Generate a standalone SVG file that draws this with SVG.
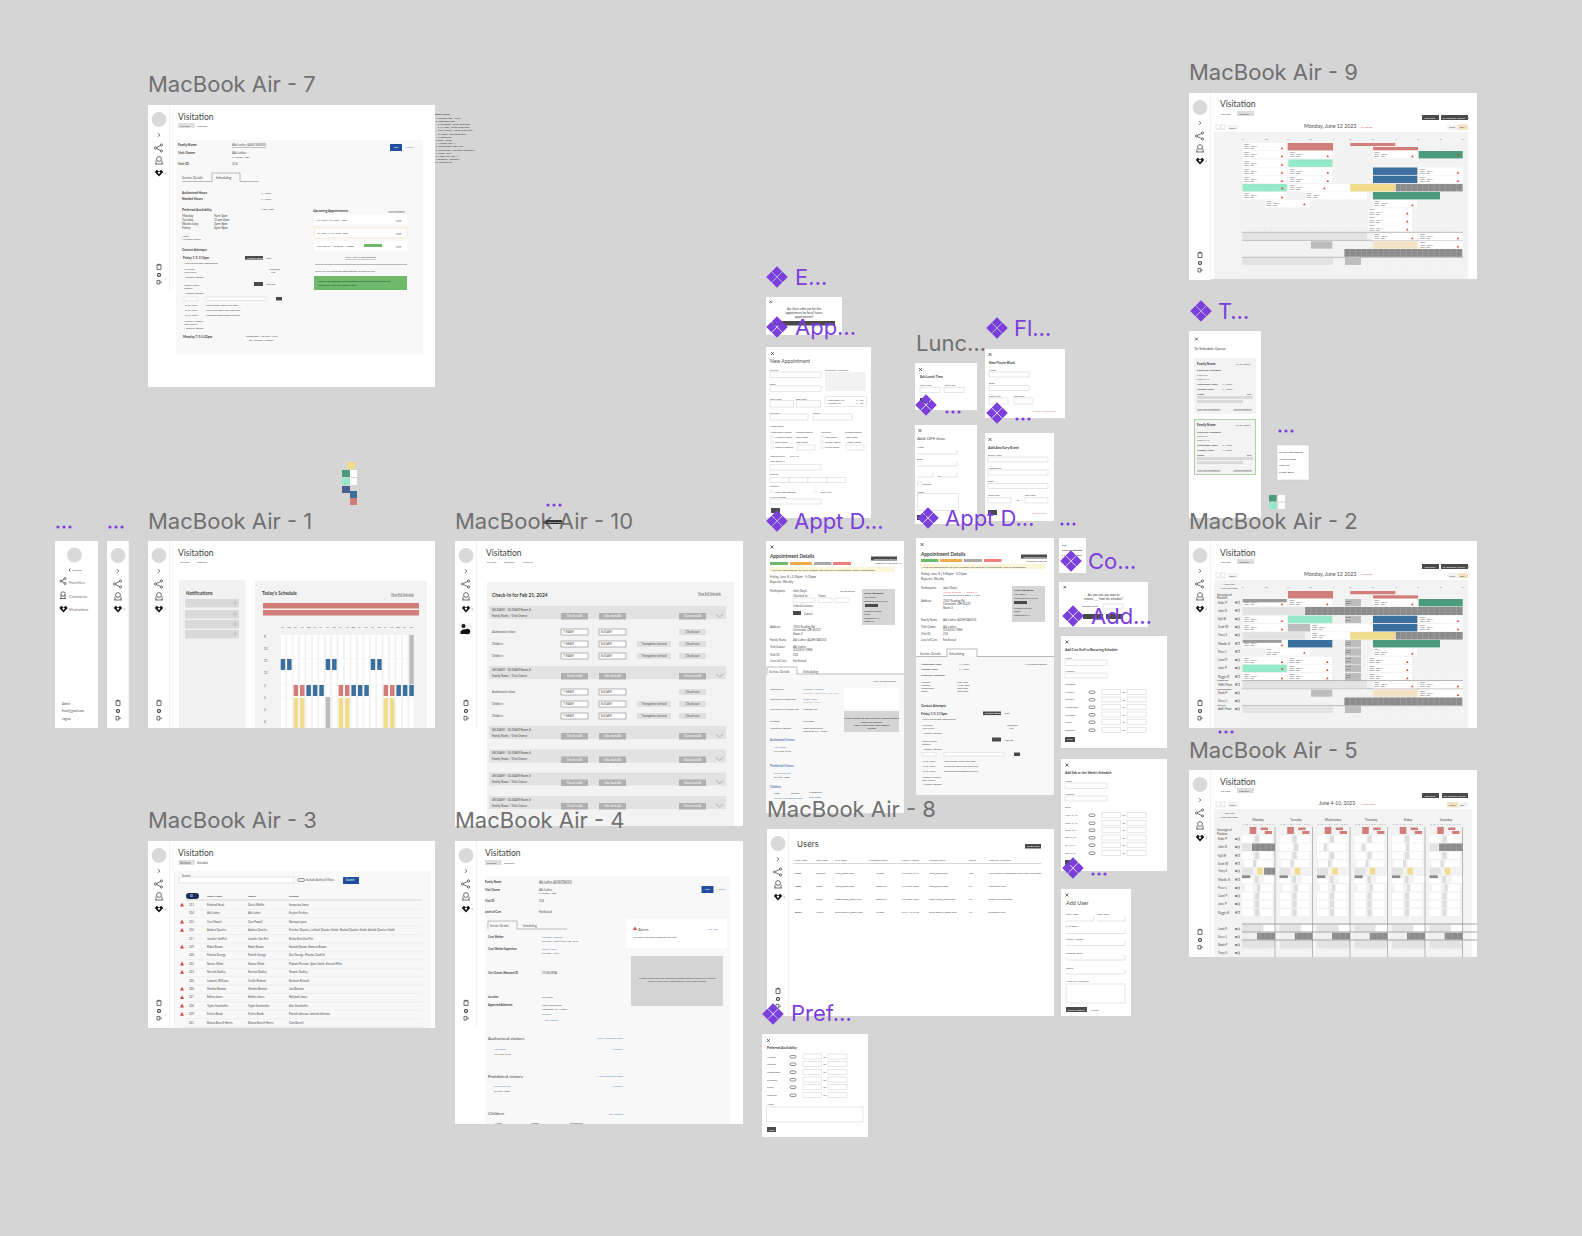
<svg xmlns="http://www.w3.org/2000/svg" xmlns:xlink="http://www.w3.org/1999/xlink" width="1582" height="1236" viewBox="0 0 1582 1236">
<style>
text{font-family:Lato,"Liberation Sans",sans-serif;fill:#4a4a4a}
.lb{font-family:Inter,"Liberation Sans",sans-serif;font-size:22px;fill:#707070}
.cp{font-family:Inter,"Liberation Sans",sans-serif;font-size:22px;fill:#7b3fdb}
.ti{font-size:8.5px;fill:#444}
.f{fill:#fff}.p{fill:#f8f8f8}.q{fill:#f3f3f3}.g{fill:#d9d9d9}
.a{font-size:2.6px}.b{font-size:2.9px}.c{font-size:3.2px}.d{font-size:3.2px;font-weight:700;fill:#3c3c3c}.e{font-size:3.7px;font-weight:700;fill:#3c3c3c}.h{font-size:4.8px;font-weight:700;fill:#3c3c3c}
#mba3 .a{font-size:2.8px}#grow .a,#subrows .a{font-size:3px}#tx .a{font-size:1.9px}#gd .a{font-size:1.9px}#contact .a{font-size:2.4px}
.u{text-decoration:underline}.bl{fill:#5b7cb0}.w{fill:#fff}.m{text-anchor:middle}.r{text-anchor:end}
.in{fill:#fff;stroke:#d8d8d8;stroke-width:.6}.sv{fill:#4a4a4a}.btn{fill:#b0b0b0}
.nb{fill:#3b6f9e}.rb{fill:#d17e7b}.yb{fill:#f0dc8c}.gb{fill:#bdbdbd}.lg{fill:#e3e3e3}.mb{fill:#93e9c8}.tb{fill:#f2e3c4}.sb{fill:url(#st)}.gr{fill:#4a9a7b}
.ln{stroke:#aaa;stroke-width:.8;fill:none}.ic{fill:none;stroke:#333;stroke-width:.7}
</style>
<defs>
<pattern id="st" x="0" y="0" width="5.6" height="10" patternUnits="userSpaceOnUse"><rect width="5.6" height="10" fill="#8c8c8c"/><rect width=".5" height="10" fill="#aaa"/></pattern>
<pattern id="col" x="280.7" y="0" width="6.43" height="10" patternUnits="userSpaceOnUse"><rect width="4.5" height="10" fill="#fff"/></pattern>
<pattern id="grid" x="1242" y="0" width="5.68" height="8.1" patternUnits="userSpaceOnUse"><rect width="5.68" height="8.1" fill="#f3f3f3"/><path d="M0 0V8.1M0 0H5.68" stroke="#e9e9e9" stroke-width=".4"/></pattern>
<g id="cmp"><path fill="#7b3fdb" d="M0-10.800 5.200-5.600 0-.4-5.200-5.600ZM0 .4 5.200 5.600 0 10.800-5.200 5.600ZM-5.600-5.200-10.800 0-5.600 5.200-.4 0ZM5.600-5.200 .4 0 5.600 5.200 10.800 0Z"/></g>
<g id="dots"><circle cx="0" cy="0" r="1.600" fill="#7b3fdb"/><circle cx="6" cy="0" r="1.600" fill="#7b3fdb"/><circle cx="12" cy="0" r="1.600" fill="#7b3fdb"/></g>
<g id="heart"><path d="M-4.200-1-2.200-3.200 0-1.600 2.200-3.200 4.200-1 0 3.600Z" fill="#111"/><path d="M-1.400-.5 0-1.600 1.400-.5 0 1.200Z" fill="#fff"/><circle cx="6.200" cy="0" r=".6" fill="#e33"/></g>
<g id="sideicons">
<rect x="0" y="0" width="21" height="187" fill="#fff"/><rect x="21" width="1" height="187" fill="#f2f2f2"/>
<circle cx="11" cy="14.500" r="7.400" fill="#d9d9d9"/><path d="M10 28.200 11.800 30 10 31.800" class="ic"/>
<g class="ic"><circle cx="7.500" cy="43" r="1.100"/><circle cx="13.500" cy="40" r="1.100"/><circle cx="13.500" cy="46" r="1.100"/><path d="M8.500 42.500 12.500 40.500M8.500 43.500 12.500 45.500"/><circle cx="11" cy="54" r="2.400"/><path d="M7 59H15M8 59V55.500M14 59V55.500"/></g>
<use href="#heart" x="11" y="68"/>
<g class="ic"><rect x="9" y="160" width="4" height="4.500"/><path d="M9.800 160V159.300H12.200V160"/><circle cx="11" cy="170" r="1.500" stroke-width="1.100"/><path d="M9 175.400H11.800V179H9ZM11.800 177.200H14"/></g>
</g>
<g id="tri"><path d="M0 1.800 1.300-.4 2.600 1.800Z" fill="#d9483b"/></g>
<g id="tri2"><path d="M0 2.600 2-1.200 4 2.600Z" fill="#cf4a3d"/></g>
<g id="tx"><text class="a" x="1" y="2.200">Katie P</text><text class="a" x="1" y="4.300">10:00 - 1:00 PM</text><text class="a" x="1" y="6.300">Family Name</text></g>
<g id="b44"><rect width="44" height="7.400" class="f"/><use href="#tx"/><use href="#tri" x="38" y="4.400"/></g>
<g id="head"><text class="ti" x="0" y="0">Visitation</text></g>
<g id="gd"><rect width="16" height="7.400" class="gb"/><text class="a" x="1" y="2.500">Lunch</text><text class="a" x="1" y="5">Break</text></g>
<g id="mini"><rect width="2" height="2" fill="#888"/><rect x="2.800" width="2" height="2" fill="none" stroke="#666" stroke-width=".4"/></g>
<g id="dayrow"><rect width="11" height="7" class="f"/><rect x="13" width="4" height="7" fill="#ddd"/><rect x="18" width="12" height="7" class="f"/></g>
<g id="day">
<text x="1" y="824.500" style="font-size:1.700px;word-spacing:1.200px">9 10 11 12 1 2 3 4 5 6 7</text>
<rect x="7.700" y="827" width="6.600" height="7" class="rb"/><rect x="18.700" y="827.500" width="7.300" height="2.600" class="rb"/><rect x="22.700" y="831" width="7.300" height="3" class="rb"/>
<use href="#dayrow" y="835.500"/><use href="#dayrow" y="852"/>
<rect x="2" y="860" width="9" height="7" class="f"/><rect x="11" y="860" width="3" height="7" fill="#ddd"/><rect x="16" y="860" width="14" height="7" class="f"/>
<rect y="867.700" width="11" height="7" class="lg"/><rect x="15.300" y="867.700" width="5.400" height="7" class="yb"/>
<rect y="875.300" width="8.300" height="3" fill="#8c8c8c"/><rect y="878.300" width="11" height="5" class="f"/><rect x="13" y="876" width="3.500" height="7" fill="#ddd"/><rect x="22" y="876" width="11" height="7" class="f"/>
<rect x="3" y="884.300" width="8" height="7" class="f"/><rect x="15" y="884.300" width="3" height="7" fill="#ddd"/><rect x="19" y="884.300" width="11" height="7" class="f"/>
<use href="#dayrow" y="892.500"/><use href="#dayrow" y="900.700"/><use href="#dayrow" y="909"/>
<rect y="925" width="21" height="6.500" class="lg"/><rect x="22" y="925" width="11" height="6.500" class="f"/>
<rect x="15" y="932.800" width="18" height="6.800" class="sb"/><rect y="932.800" width="15" height="6.800" fill="#efefef"/>
<rect y="940.800" width="33" height="7.500" class="lg"/>
<path d="M33 827V957" stroke="#8f8f8f" stroke-width=".6"/>
</g>
<g id="avrow"><rect x="0" y="0" width="6" height="2.500" rx="1.200" fill="none" stroke="#444" stroke-width=".6"/><rect x="13" y="-1.500" width="18.500" height="5" class="in"/><rect x="38" y="-1.500" width="19" height="5" class="in"/><text class="a" x="33.500" y="2">to</text></g>
<g id="grow"><rect width="237" height="13" fill="#e2e2e2"/><text class="a" x="3" y="4.500">08:30AM - 10:30AM  Room #</text><text class="a" x="3" y="10.500">Family Name / Visit Owner</text>
<rect x="72" y="7" width="27" height="6.500" class="btn"/><rect x="110" y="7" width="27" height="6.500" class="btn"/><rect x="190" y="7" width="27" height="6.500" class="btn"/>
<text class="a w m" x="85.500" y="11.300">Check in All</text><text class="a w m" x="123.500" y="11.300">Take back All</text><text class="a w m" x="203.500" y="11.300">Check out All</text><path d="M227 8 230.500 11 234 8" fill="none" stroke="#777" stroke-width=".5"/></g>
<g id="subrows">
<text class="a" x="3" y="4">Authorized visitor</text><rect x="72" y="0" width="27" height="6" class="in" style="stroke:#888"/><rect x="110" y="0" width="27" height="6" class="in" style="stroke:#888"/><text class="a" x="74" y="4">7:58AM</text><text class="a" x="112" y="4">8:43AM</text><rect x="190" y="0" width="27" height="6" fill="#dedede"/><text class="a m" x="203.500" y="4">Check out</text>
<text class="a" x="3" y="16">Children</text><rect x="72" y="12" width="27" height="6" class="in" style="stroke:#888"/><rect x="110" y="12" width="27" height="6" class="in" style="stroke:#888"/><text class="a" x="74" y="16">7:58AM</text><text class="a" x="112" y="16">8:43AM</text><rect x="148" y="12" width="34" height="6" fill="#e0e0e0"/><text class="a m" x="165" y="16">Transporter arrived</text><rect x="190" y="12" width="27" height="6" fill="#dedede"/><text class="a m" x="203.500" y="16">Check out</text>
<text class="a" x="3" y="28">Children</text><rect x="72" y="24" width="27" height="6" class="in" style="stroke:#888"/><rect x="110" y="24" width="27" height="6" class="in" style="stroke:#888"/><text class="a" x="74" y="28">7:58AM</text><text class="a" x="112" y="28">8:43AM</text><rect x="148" y="24" width="34" height="6" fill="#e0e0e0"/><text class="a m" x="165" y="28">Transporter arrived</text><rect x="190" y="24" width="27" height="6" fill="#dedede"/><text class="a m" x="203.500" y="28">Check out</text>
</g>
<g id="contact">
<text class="d" x="0" y="0">Friday 1/5 3:15pm</text><rect x="62" y="-3" width="18" height="3.600" class="sv"/><text class="a w" x="64" y="-.3">Contact Attempt</text><text class="a" x="83" y="-.3">Appt</text>
<text class="a" x="1" y="5">Need confirmation appointment</text>
<text class="a" x="1" y="11">Abi Luther</text><text class="a" x="1" y="14">Visit Owner</text><text class="a" x="86" y="11">Contacted</text><text class="a" x="88" y="14">Left</text><text class="a" x="1" y="19">+ Contact Attempt</text>
<text class="a" x="1" y="27">Kendall Luther</text><text class="a" x="1" y="30">Support</text><rect x="71" y="23" width="9" height="4" class="sv"/><text class="a" x="83" y="26">Appt left</text><text class="a" x="1" y="35">+ Contact Attempt</text>
<rect x="1" y="38" width="14" height="3.500" class="in"/><rect x="23" y="38" width="60" height="3.500" class="in"/><rect x="93" y="38" width="6" height="3.500" class="sv"/>
<text class="a" x="2" y="47">01/01/2024</text><text class="a" x="23" y="47">Left voicemail about new appt</text><text class="a" x="2" y="52">01/01/2024</text><text class="a" x="23" y="52">Called and spoke with supervisor</text><text class="a" x="2" y="57">01/01/2024</text><text class="a" x="23" y="57">Confirmed appointment with me</text>
<text class="a" x="1" y="63">Madison Huffman</text><text class="a" x="1" y="66">Case Worker</text><text class="a" x="1" y="70">+ Contact Attempt</text>
</g>
</defs>
<rect width="1582" height="1236" fill="#d5d5d5"/>

<g id="mba7"><rect x="148" y="105" width="287" height="282" class="f"/><rect x="176" y="140" width="247" height="215" class="p"/>
<use href="#sideicons" x="148" y="105" /><rect x="148" y="292" width="22" height="95" class="f"/><use href="#head" x="178" y="120"/>
<rect x="178" y="123" width="17" height="5" fill="#e0e0e0"/><text class="a" x="180" y="126.500">Services</text><text class="a" x="197" y="126.500">Schedule</text>
<text class="d" x="178" y="146">Family Name:</text><text class="c u" x="232" y="146">Abi Luther (A36745092)</text>
<text class="d" x="178" y="154">Visit Owner</text><text class="c" x="232" y="154">Abi Luther</text><text class="a" x="232" y="157.500">(513)555-1986</text><text class="d" x="178" y="165">Visit ID:</text><text class="c" x="232" y="165">214</text>
<rect x="390" y="144" width="12" height="7" rx=".6" fill="#1f4e9e"/><text class="a w" x="394" y="148.300">Edit</text><text class="a bl" x="405" y="148.300">Archive</text>
<path d="M182 181.500H212V173H240V181.500H259" class="ln"/><text class="c" x="182" y="179">Service Details</text><text class="c" x="216" y="179">Scheduling</text>
<text class="d" x="182" y="193.500">Authorized Hours</text><text class="a" x="261" y="193.500">X / week</text><text class="d" x="182" y="199.500">Needed Hours</text><text class="a" x="261" y="199.500">X / week</text>
<text class="d" x="182" y="210.500">Preferred Availability</text><text class="a" x="260" y="210">+ Add / Edit</text>
<text class="c" x="182" y="216.500">Monday</text><text class="c" x="214" y="216.500">9am-2pm</text><text class="c" x="182" y="220.800">Tuesday</text><text class="c" x="214" y="220.800">11am-4pm</text><text class="c" x="182" y="225">Wednesday</text><text class="c" x="214" y="225">2pm-8pm</text><text class="c" x="182" y="229.300">Friday</text><text class="c" x="214" y="229.300">4pm-8pm</text>
<text class="a" x="182" y="236.500">Notes</text><text class="a" x="182" y="240">Available flexibly</text><text class="d" x="182" y="251">Contact Attempts</text>
<use href="#contact" x="183" y="259"/><text class="d" x="183" y="338">Monday 7/5 5:23pm</text><text class="a" x="246" y="337">Completed: 1/8/2024 10:01</text><text class="a" x="249" y="341">By Madison Huffman</text>
<text class="d" x="313" y="211.500">Upcoming Appointments</text><text class="a u" x="388" y="211.500">View Schedule</text>
<rect x="314" y="214.500" width="93" height="10" class="f"/><rect x="314.500" y="228" width="92.500" height="10" class="f" stroke="#f5e8c4" stroke-width=".8"/><rect x="314" y="241" width="93" height="10" class="f"/>
<text class="a" x="317" y="220.500">Fri, June 9  |  5:15pm - 7pm</text><text class="a" x="317" y="233.500">Fri, June 16  |  3:15pm - 5pm</text><text class="a" x="317" y="246.500">Sat, June 24  |  10:30am - 1:00pm</text><rect x="364" y="244" width="18" height="3" fill="#6fb96b"/>
<text class="a u" x="396" y="220.500">Man</text><text class="a u" x="396" y="233.500">Man</text><text class="a u" x="396" y="246.500">Man</text>
<text class="a u m" x="360.500" y="258">View Next 3 Appointments</text><path d="M315 264.500H407" class="ln"/><text class="a" x="315" y="271.500">There are no upcoming appointments for this service.</text>
<rect x="314" y="276" width="93" height="14" fill="#6fb96b"/><text class="a" x="318" y="282" style="fill:#234">There is an opening on the schedule that matches the preferred</text><text class="a" x="318" y="285.500" style="fill:#234">availability. Click to Schedule now</text></g>
<g id="block-colors"><text class="a" x="435" y="115" style="font-weight:700;fill:#333">Block Colors:</text>
<text class="a" style="font-size:2.300px;fill:#333"><tspan x="436" y="118.500">1. Pending Appt - Yellow</tspan><tspan x="436" y="122">2. Confirmed Appt:</tspan><tspan x="438" y="125">a. Facilitated - White, Black text</tspan><tspan x="438" y="128.200">b. In Home - White, Green Text</tspan><tspan x="438" y="131.400">c. Sy (Anxiety) - Liquid, White Text</tspan><tspan x="438" y="134.500">d. Hazard - Gray, Black Text</tspan><tspan x="438" y="137.800">e. Interpreter -</tspan><tspan x="436" y="141">3. Edits - Purple</tspan><tspan x="436" y="144.200">4. Makeup Appt - ?</tspan><tspan x="436" y="147.400">5. Unconfirmed Appt - Red</tspan><tspan x="436" y="150.600">6. Room Block - Gray(Blue, diffraction)</tspan><tspan x="436" y="153.800">7. Lunch - Gray</tspan><tspan x="436" y="157">8. Home Visit - Sth - ?</tspan><tspan x="436" y="160.200">9. Disabled - Light gray</tspan><tspan x="435" y="163.400">10. Unscheduled</tspan></text></g>

<g id="swatches"><rect x="347" y="462" width="8" height="7" fill="#f0dc8c"/><rect x="342" y="470" width="8" height="7" fill="#4a9a7b"/><rect x="350" y="470" width="7" height="7" fill="#fff"/><rect x="342" y="478" width="8" height="7" fill="#93e9c8"/><rect x="350" y="478" width="7" height="7" fill="#fff"/><rect x="342" y="486" width="8" height="7" fill="#4a5f8c"/><rect x="350" y="491" width="7" height="7" fill="#3b6f9e"/><rect x="350" y="498" width="7" height="7" class="rb"/></g>

<g id="side-expanded"><rect x="55" y="541" width="43" height="187" class="f"/><circle cx="74.500" cy="555" r="7.400" class="g"/><path d="M70.500 568.500 69 570 70.500 571.500" class="ic"/><text class="a" x="72" y="571">Collapse</text>
<g class="ic"><circle cx="61" cy="581" r="1"/><circle cx="65" cy="578.500" r="1"/><circle cx="65" cy="583.500" r="1"/><path d="M62 580.500 64 579.300M62 581.500 64 582.700"/><circle cx="63" cy="594" r="2.200"/><path d="M60 598.500H66M61 598.500V595M65 598.500V595"/></g><text x="69" y="583.500" style="font-size:4.600px;fill:#777">Families</text><text x="69" y="597.500" style="font-size:4.600px;fill:#777">Contacts</text><use href="#heart" x="63.500" y="609"/><text x="69" y="611" style="font-size:4.600px;fill:#777">Visitation</text><text class="b" x="62" y="704.500">Admin</text><text class="b" x="62" y="712">Email@gmail.com</text><text class="b" x="62" y="719.500">Logout</text></g>
<g id="side-collapsed"><use href="#sideicons" x="107" y="541"/></g>

<g id="mba1"><rect x="148" y="541" width="287" height="187" class="f"/><use href="#sideicons" x="148" y="541"/><use href="#head" x="178" y="556"/><text class="a" x="180" y="563">Services</text><text class="a" x="197" y="563">Schedule</text>
<rect x="179" y="580" width="66.700" height="148" fill="#f2f2f2"/><text class="e" x="186" y="594.500" style="font-size:4.600px">Notifications</text>
<rect x="185" y="599" width="54" height="8.500" class="g"/><rect x="185" y="610" width="54" height="8.500" class="g"/><rect x="185" y="620" width="54" height="8.500" class="g"/><rect x="185" y="630" width="54" height="8.500" class="g"/>
<g class="ic" style="stroke:#aaa;stroke-width:.5"><circle cx="235" cy="603" r="1.300"/><circle cx="235" cy="614" r="1.300"/><circle cx="235" cy="624" r="1.300"/><circle cx="235" cy="634" r="1.300"/></g>
<rect x="255" y="581" width="172" height="147" class="q"/><text class="e" x="262" y="594.500" style="font-size:4.600px">Today's Schedule</text><text class="a u" x="391" y="595.500" style="font-size:2.800px">View Full Schedule</text>
<rect x="263" y="603" width="156" height="5.500" class="rb"/><rect x="263" y="610" width="156" height="5.500" class="rb"/>
<text class="a" style="font-size:2.400px"><tspan x="281" y="627.500">KP</tspan><tspan x="287.500" y="627.500">KB</tspan><tspan x="294" y="627.500">CA</tspan><tspan x="300.500" y="627.500">AC</tspan><tspan x="307" y="627.500">BW</tspan><tspan x="313.500" y="627.500">FT</tspan><tspan x="319.500" y="627.500">LF</tspan><tspan x="326" y="627.500">KP</tspan><tspan x="332.500" y="627.500">KB</tspan><tspan x="339" y="627.500">CA</tspan><tspan x="345.500" y="627.500">AC</tspan><tspan x="351.500" y="627.500">BW</tspan><tspan x="358" y="627.500">JK</tspan><tspan x="364.500" y="627.500">LO</tspan><tspan x="371" y="627.500">KP</tspan><tspan x="377.500" y="627.500">KB</tspan><tspan x="384" y="627.500">CA</tspan><tspan x="390" y="627.500">AC</tspan><tspan x="396.500" y="627.500">BW</tspan><tspan x="403" y="627.500">JK</tspan><tspan x="409.500" y="627.500">LO</tspan></text>
<rect x="280.700" y="635" width="133" height="93" fill="url(#col)"/><path d="M280 659H414M280 684.500H414M280 697H414" stroke="#f3f3f3" stroke-width=".6"/>
<text class="b" x="264" y="638">9</text><text class="b" x="264" y="650">10</text><text class="b" x="264" y="662">11</text><text class="b" x="264" y="674">12</text><text class="b" x="264" y="686.500">1</text><text class="b" x="264" y="698.500">2</text><text class="b" x="264" y="711">3</text><text class="b" x="264" y="723">4</text>
<rect x="280.700" y="659" width="4.500" height="11" class="nb"/><rect x="287.100" y="659" width="4.500" height="11" class="nb"/><rect x="325.700" y="659" width="4.500" height="11" class="nb"/><rect x="332.100" y="659" width="4.500" height="11" class="nb"/><rect x="370.700" y="659" width="4.500" height="11" class="nb"/><rect x="377.200" y="659" width="4.500" height="11" class="nb"/>
<rect x="293.600" y="685" width="4.500" height="11" class="rb"/><rect x="300" y="685" width="4.500" height="11" class="rb"/><rect x="306.400" y="685" width="4.500" height="11" class="nb"/><rect x="312.900" y="685" width="4.500" height="11" class="nb"/><rect x="319.300" y="685" width="4.500" height="11" class="nb"/><rect x="338.600" y="685" width="4.500" height="11" class="rb"/><rect x="345" y="685" width="4.500" height="11" class="rb"/><rect x="351.400" y="685" width="4.500" height="11" class="nb"/><rect x="357.900" y="685" width="4.500" height="11" class="nb"/><rect x="364.300" y="685" width="4.500" height="11" class="nb"/><rect x="383.600" y="685" width="4.500" height="11" class="rb"/><rect x="390" y="685" width="4.500" height="11" class="rb"/><rect x="396.400" y="685" width="4.500" height="11" class="nb"/><rect x="402.900" y="685" width="4.500" height="11" class="nb"/><rect x="409.300" y="685" width="4.500" height="11" class="nb"/>
<rect x="293.600" y="698" width="4.500" height="30" class="yb"/><rect x="300" y="698" width="4.500" height="30" class="yb"/><rect x="338.600" y="698" width="4.500" height="30" class="yb"/><rect x="345" y="698" width="4.500" height="30" class="yb"/><rect x="383.600" y="698" width="4.500" height="30" class="yb"/><rect x="390" y="698" width="4.500" height="30" class="yb"/><rect x="325.700" y="697" width="4.500" height="31" class="gb"/><rect x="409.300" y="635" width="4.500" height="49.500" class="gb"/></g>

<g id="mba10"><rect x="455" y="541" width="288" height="285" class="f"/><use href="#sideicons" x="455" y="541"/><rect x="459" y="623" width="13" height="12" fill="#f5f5f5"/><circle cx="463.500" cy="626" r="2" fill="#111"/><path d="M460.500 634V631.500Q463.500 628 466.500 630V634Z" fill="#111"/><circle cx="467.500" cy="631.500" r="2.700" fill="#111"/><use href="#head" x="486" y="556"/><text class="a" x="487" y="562.500">Services</text><text class="a" x="504" y="562.500">Schedule</text><text class="a" x="523" y="562.500">Check In</text>
<rect x="487" y="582" width="247" height="244" class="q"/><text class="h" x="492" y="597">Check-In for Feb 21, 2024</text><text class="a u" x="698" y="594.500" style="font-size:2.800px">View Full Schedule</text>
<use href="#grow" x="489" y="606"/><use href="#subrows" x="489" y="629"/><use href="#grow" x="489" y="666"/><use href="#subrows" x="489" y="689"/><use href="#grow" x="489" y="726"/><use href="#grow" x="489" y="749.500"/><use href="#grow" x="489" y="772.500"/><use href="#grow" x="489" y="796"/></g>

<g id="mba3"><rect x="148" y="841" width="287" height="187" class="f"/><use href="#sideicons" x="148" y="841"/><use href="#head" x="178" y="856"/><rect x="178.500" y="860" width="16" height="5" fill="#ddd"/><text class="a" x="180" y="863.500">Services</text><text class="a" x="197" y="863.500">Schedule</text>
<rect x="174" y="871" width="257" height="157" class="p"/><rect x="179" y="877" width="115" height="6" class="in"/><rect x="181" y="875.500" width="9" height="2" class="p"/><text class="a" x="182" y="877">Search</text><rect x="298" y="878.500" width="6.500" height="3" rx="1.500" fill="none" stroke="#444" stroke-width=".6"/><text class="a" x="306" y="881">Include Archived Visits</text><rect x="343" y="877" width="16" height="7" rx=".6" fill="#1f4e9e"/><text class="a w" x="346" y="881">Search</text>
<rect x="186" y="893" width="13" height="6" rx="3" fill="#1a2f5e"/><text class="a w" x="190" y="896.800">ID</text><text class="d" x="207" y="897" style="font-size:2.600px">Family Name</text><text class="d" x="248" y="897" style="font-size:2.600px">Owner</text><text class="d" x="289" y="897" style="font-size:2.600px">Children</text><path d="M186 900H422" class="ln" style="stroke:#ccc"/>
<path d="M186 909.400H422M186 917.800H422M186 926.200H422M186 934.600H422M186 943H422M186 951.400H422M186 959.800H422M186 968.200H422M186 976.600H422M186 985H422M186 993.400H422M186 1001.800H422M186 1010.200H422M186 1018.600H422M186 1027H422" stroke="#e6e6e6" stroke-width=".5"/>
<g><text class="a" x="189" y="906">211</text><text class="a" x="207" y="906">Folarind Head</text><text class="a" x="248" y="906">Darris Wollin</text><text class="a" x="289" y="906">Innocenta Jonas</text>
<text class="a" x="189" y="914.400">214</text><text class="a" x="207" y="914.400">Abi Luther</text><text class="a" x="248" y="914.400">Abi Luther</text><text class="a" x="289" y="914.400">Keylani Perkins</text>
<text class="a" x="189" y="922.800">215</text><text class="a" x="207" y="922.800">Cera Powell</text><text class="a" x="248" y="922.800">Cara Powell</text><text class="a" x="289" y="922.800">Nainoya Lyons</text>
<text class="a" x="189" y="931.200">216</text><text class="a" x="207" y="931.200">Andrea Quarles</text><text class="a" x="248" y="931.200">Andrea Quarles</text><text class="a" x="289" y="931.200">Fletcher Quarles, Lehlosh Quarles-Smith, Rashad Quarles-Smith, Ashiah Quarles-Smith</text>
<text class="a" x="189" y="939.600">217</text><text class="a" x="207" y="939.600">Jennifer VanPelt</text><text class="a" x="248" y="939.600">Jennifer Van Pelt</text><text class="a" x="289" y="939.600">Elisha Elno Van Pelt</text>
<text class="a" x="189" y="948">219</text><text class="a" x="207" y="948">Robin Brown</text><text class="a" x="248" y="948">Robin Brown</text><text class="a" x="289" y="948">Kamiah Brown, Romero Brown</text>
<text class="a" x="189" y="956.400">220</text><text class="a" x="207" y="956.400">Patricia George</text><text class="a" x="248" y="956.400">Patrick George</text><text class="a" x="289" y="956.400">Zuri George, Phoebe Cook Sir</text>
<text class="a" x="189" y="964.800">222</text><text class="a" x="207" y="964.800">Nature Elliott</text><text class="a" x="248" y="964.800">Nature Elliott</text><text class="a" x="289" y="964.800">Flipside Preston, Sybar Smith, Kincaid Hiller</text>
<text class="a" x="189" y="973.200">223</text><text class="a" x="207" y="973.200">Nerriah Dudley</text><text class="a" x="248" y="973.200">Nerriah Dudley</text><text class="a" x="289" y="973.200">Nawrin Dudley</text>
<text class="a" x="189" y="981.600">224</text><text class="a" x="207" y="981.600">Lawnnie Williams</text><text class="a" x="248" y="981.600">Tenille Richard</text><text class="a" x="289" y="981.600">Nashum Richard</text>
<text class="a" x="189" y="990">226</text><text class="a" x="207" y="990">Martha Blanton</text><text class="a" x="248" y="990">Martha Blanton</text><text class="a" x="289" y="990">Jala Blanton</text>
<text class="a" x="189" y="998.400">227</text><text class="a" x="207" y="998.400">Edthra Jones</text><text class="a" x="248" y="998.400">Edithra Jones</text><text class="a" x="289" y="998.400">Halijwah Jones</text>
<text class="a" x="189" y="1006.800">228</text><text class="a" x="207" y="1006.800">Taylor Stackmiller</text><text class="a" x="248" y="1006.800">Taylor Stackmiller</text><text class="a" x="289" y="1006.800">Arie Stackmiller</text>
<text class="a" x="189" y="1015.200">229</text><text class="a" x="207" y="1015.200">Felicia Brook</text><text class="a" x="248" y="1015.200">Felicia Brook</text><text class="a" x="289" y="1015.200">Patrick Johnson, Jamirah Johnson</text>
<text class="a" x="189" y="1023.600">231</text><text class="a" x="207" y="1023.600">Bianca Burrell-Harris</text><text class="a" x="248" y="1023.600">Bianca Burrell-Harris</text><text class="a" x="289" y="1023.600">Cam Burrell</text></g>
<use href="#tri2" x="180" y="904"/><use href="#tri2" x="180" y="920.800"/><use href="#tri2" x="180" y="929.200"/><use href="#tri2" x="180" y="946"/><use href="#tri2" x="180" y="962.800"/><use href="#tri2" x="180" y="971.200"/><use href="#tri2" x="180" y="988"/><use href="#tri2" x="180" y="996.400"/><use href="#tri2" x="180" y="1004.800"/><use href="#tri2" x="180" y="1013.200"/></g>

<g id="mba4"><rect x="455" y="841" width="288" height="283" class="f"/><use href="#sideicons" x="455" y="841"/><use href="#head" x="485" y="856"/><rect x="485" y="860" width="16.500" height="5" fill="#ddd"/><text class="a" x="487" y="863.500">Services</text><text class="a" x="504" y="863.500">Schedule</text>
<rect x="485" y="876" width="245" height="248" class="p"/><text class="d" x="485" y="882.500" style="font-size:2.800px">Family Name:</text><text class="b u" x="539" y="882.500">Abi Luther (A33879A252)</text><text class="d" x="485" y="890.500" style="font-size:2.800px">Visit Owner</text><text class="b" x="539" y="890.500">Abi Luther</text><text class="a" x="539" y="894">(513)555-1986</text><text class="d" x="485" y="901.500" style="font-size:2.800px">Visit ID</text><text class="b" x="539" y="901.500">214</text><text class="d" x="485" y="912.500" style="font-size:2.800px">Level of Care</text><text class="b" x="539" y="912.500">Facilitated</text>
<rect x="701.500" y="886" width="12" height="7" rx=".6" fill="#1f4e9e"/><text class="a w" x="705" y="890.300">Edit</text><text class="a bl" x="717" y="890.300">Archive</text>
<path d="M488 929V921H517V929H567" class="ln"/><text class="b" x="490" y="926.500">Service Details</text><text class="b" x="523" y="926.500">Scheduling</text>
<rect x="627" y="919" width="100" height="29" class="f"/><path d="M633 930 635 926.500 637 930Z" fill="#d9483b"/><text x="638" y="930.500" style="font-size:4px">Alerts</text><text class="a bl" x="705" y="929.500">+ Add Alert</text><text class="a" x="633" y="938">No alerts have been added to this visit.</text>
<rect x="631" y="956" width="92" height="50" fill="#d4d4d4"/><text class="a m" x="677" y="979">Visitor Scheduling and Schedule Communication details are missing</text><text class="a m" x="677" y="982">Family's preferred Appointment, Visit is still needed</text>
<text class="d" x="488" y="938" style="font-size:2.700px">Case Worker</text><text class="a bl" x="542" y="938">Madison Huffman</text><text class="a" x="542" y="942">513-994-1202  |  513-439-4543</text><text class="d" x="488" y="950" style="font-size:2.700px">Case Worker Supervisor</text><text class="a bl" x="542" y="950">Grace Mares</text><text class="a" x="542" y="954">513-994-1010</text><text class="d" x="488" y="974" style="font-size:2.700px">Visit Owner (Neocore) ID</text><text class="b" x="542" y="974">LY165289A</text><text class="d" x="488" y="998" style="font-size:2.700px">Location</text><text class="a" x="542" y="998">In-person</text><text class="d" x="488" y="1006" style="font-size:2.700px">Approved Addresses</text><text class="a" x="542" y="1006">7582 Reading Rd.</text><text class="a" x="542" y="1010">Cincinnati, OH 45237</text><text class="a bl" x="542" y="1015">Remove</text><text class="a bl" x="542" y="1021">+ Add Address</text>
<text class="e" x="488" y="1040" style="font-size:4.400px;font-weight:400">Authorized visitors</text><text class="a bl r" x="623" y="1039">+ Add Authorized visitor</text><text class="a bl" x="494" y="1050">Abi Luther</text><text class="a" x="494" y="1054.500">513-255-0492</text><text class="a bl r" x="623" y="1050">× Remove</text>
<text class="e" x="488" y="1077.500" style="font-size:4.400px;font-weight:400">Prohibited visitors</text><text class="a bl r" x="623" y="1077">+ Add Prohibited visitor</text><text class="a bl" x="494" y="1087">Jordan Perkins</text><text class="a" x="494" y="1091.500">Ex wife, 1980</text><text class="a bl r" x="623" y="1087">× Remove</text>
<text class="e" x="488" y="1115" style="font-size:4.400px;font-weight:400">Children</text><text class="a bl r" x="623" y="1114.500">+ Add Children</text><text class="a" x="495" y="1123.500">Name</text><text class="a" x="531" y="1123.500">Gender</text><text class="a" x="570" y="1123.500">Transporter</text></g>

<g id="mba8"><rect x="767" y="829" width="287" height="187" class="f"/><use href="#sideicons" x="767" y="829"/><text x="797" y="847" style="font-size:8px;font-family:Inter,sans-serif;fill:#444">Users</text><rect x="1025" y="844" width="16" height="4.500" class="sv"/><text class="a w" x="1027" y="847.300">Invite User</text>
<path d="M793 863.500H1041" class="ln" style="stroke:#ccc"/>
<g><text class="a" x="795" y="861">First Name</text><text class="a" x="816" y="861">Last Name</text><text class="a" x="835" y="861">PHC Email</text><text class="a" x="869" y="861">Invitation Status</text><text class="a" x="902" y="861">Phone Number</text><text class="a" x="929" y="861">Personal Email</text><text class="a" x="969" y="861">Status</text><text class="a" x="988" y="861">Notes on Availability</text>
<text class="d" x="795" y="873.500" style="font-size:2.600px">Lexie</text><text class="a" x="816" y="873.500">Rollman</text><text class="a" x="835" y="873.500">lexie@gmail.com</text><text class="a" x="876" y="873.500">Invited</text><text class="a" x="902" y="873.500">513-555-9451</text><text class="a" x="929" y="873.500">lexie@gmail.com</text><text class="a" x="969" y="873.500">Sub</text><text class="a" x="988" y="873.500">Not available Wednesday and Fridays evenings</text>
<text class="d" x="795" y="886.500" style="font-size:2.600px">Katie</text><text class="a" x="816" y="886.500">Smith</text><text class="a" x="835" y="886.500">katie@gmail.com</text><text class="a" x="876" y="886.500">Signed in</text><text class="a" x="902" y="886.500">513-955-8755</text><text class="a" x="929" y="886.500">katie@gmail.com</text><text class="a" x="969" y="886.500">PT</text><text class="a" x="988" y="886.500">Afternoons only</text>
<text class="d" x="795" y="899.500" style="font-size:2.600px">Peter</text><text class="a" x="816" y="899.500">Jacob</text><text class="a" x="835" y="899.500">peter.jacob@gmail.com</text><text class="a" x="876" y="899.500">Signed in</text><text class="a" x="902" y="899.500">513-585-7563</text><text class="a" x="929" y="899.500">peter.jacob@gmail.com</text><text class="a" x="969" y="899.500">PT</text><text class="a" x="988" y="899.500">Flexible on weekends</text>
<text class="d" x="795" y="913" style="font-size:2.600px">Bailey</text><text class="a" x="816" y="913">Moore</text><text class="a" x="835" y="913">baileymoore@gmail.com</text><text class="a" x="876" y="913">Invited</text><text class="a" x="902" y="913">513-442-6173</text><text class="a" x="929" y="913">baileymoore@gmail.com</text><text class="a" x="969" y="913">FT</text><text class="a" x="988" y="913">Weekdays Only</text></g></g>

<g id="mba9"><rect x="1189" y="93" width="288" height="186" class="f"/><use href="#sideicons" x="1189" y="93"/><use href="#head" x="1220" y="107"/><text class="a" x="1221" y="114.500">Services</text><rect x="1237" y="111" width="17" height="5" fill="#ddd"/><text class="a" x="1239" y="114.500">Schedule</text>
<rect x="1422" y="115" width="17" height="5" class="sv"/><text class="a w" x="1424" y="118.500">Add block</text><rect x="1441" y="115" width="27" height="5" class="sv"/><text class="a w" x="1442.500" y="118.500">To-Schedule Queue</text><circle cx="1468" cy="118" r=".8" fill="#4a9a4a"/>
<rect x="1216" y="125" width="4" height="4.500" class="in"/><rect x="1221" y="125" width="4" height="4.500" class="in"/><text class="a" x="1217" y="128.500">&lt;</text><text class="a" x="1222" y="128.500">&gt;</text><rect x="1228" y="125" width="10" height="4.500" class="q"/><text class="a" x="1229" y="128.500">Today</text>
<text x="1304" y="128" style="font-size:5.200px">Monday, June 12 2023</text><text class="a" style="fill:#d55" x="1361" y="127.500">01/30/30</text>
<rect x="1447" y="124.500" width="11" height="5.500" class="q"/><text class="a" x="1449" y="128.200">Week</text><rect x="1458" y="124.500" width="10" height="5.500" class="tb"/><text class="a" x="1460" y="128.200">Day</text>
<rect x="1214" y="132" width="254" height="147" class="q"/><rect x="1242" y="142" width="221" height="137" fill="url(#grid)"/>
<text class="a"><tspan x="1242" y="140">9</tspan><tspan x="1264.500" y="140">10</tspan><tspan x="1287" y="140">11</tspan><tspan x="1309" y="140">12</tspan><tspan x="1332.500" y="140">1</tspan><tspan x="1349.500" y="140">2</tspan><tspan x="1372" y="140">3</tspan><tspan x="1395" y="140">4</tspan><tspan x="1417.500" y="140">5</tspan><tspan x="1440" y="140">6</tspan><tspan x="1462" y="140">7</tspan></text>
<use href="#b44" x="1242.700" y="143"/><rect x="1287.700" y="143" width="45.300" height="7.400" class="rb"/><rect x="1350.300" y="143" width="45" height="3" class="rb"/><rect x="1373" y="147" width="45" height="3.200" class="rb"/>
<use href="#b44" x="1242.700" y="151"/><use href="#b44" x="1288.500" y="151"/><use href="#b44" x="1373" y="151"/><rect x="1418.700" y="151" width="44" height="7.400" class="gr"/><use href="#tri" x="1457" y="154"/>
<use href="#b44" x="1242.700" y="159.500"/><rect x="1288.500" y="159.500" width="44" height="7.400" class="mb"/>
<use href="#b44" x="1242.700" y="167.500"/><use href="#b44" x="1288.500" y="167.500"/><rect x="1373" y="167.500" width="44.300" height="7.400" class="nb"/><use href="#b44" x="1418.700" y="167.500"/>
<use href="#b44" x="1242.700" y="175.700"/><use href="#b44" x="1288.500" y="175.700"/><rect x="1373" y="175.700" width="44.300" height="7.400" class="nb"/><use href="#b44" x="1418.700" y="175.700"/>
<rect x="1242.700" y="184" width="44" height="7.400" class="mb"/><use href="#tri" x="1281" y="187.500"/><rect x="1288.500" y="184" width="61.500" height="7.400" class="f"/><use href="#tx" x="1288.500" y="184"/><use href="#tri" x="1323" y="187.500"/><rect x="1350.300" y="184" width="45" height="7.400" class="yb"/><rect x="1395.700" y="184" width="67" height="7.400" class="sb"/>
<use href="#b44" x="1242.700" y="192"/><rect x="1305.300" y="192" width="61.700" height="7.400" class="f"/><use href="#tx" x="1305.300" y="192"/><rect x="1373" y="192" width="67" height="7.400" class="gr"/>
<rect x="1265" y="200" width="45" height="7.400" class="f"/><use href="#tx" x="1265" y="200"/><use href="#tri" x="1303" y="203.500"/><use href="#b44" x="1373" y="200"/>
<use href="#b44" x="1368" y="208.300"/><use href="#b44" x="1368" y="216.300"/><use href="#b44" x="1368" y="224.300"/>
<path d="M1242 232.300H1463M1242 240.300H1463M1242 257.300H1463" class="ln"/>
<rect x="1242.300" y="233" width="124.700" height="7" class="lg"/><use href="#b44" x="1373" y="233"/><use href="#b44" x="1418.700" y="233"/>
<rect x="1311" y="241.300" width="21.300" height="7.400" class="gb"/><rect x="1373" y="241.300" width="44.300" height="7.400" class="tb"/><use href="#b44" x="1418.700" y="241.300"/>
<rect x="1344.300" y="249" width="118" height="7.800" class="sb"/><rect x="1242.300" y="258" width="90.700" height="7" class="lg"/><rect x="1345" y="258" width="16" height="7" class="gb"/></g>

<g id="mba2"><rect x="1189" y="541" width="288" height="187" class="f"/><use href="#sideicons" x="1189" y="541"/><use href="#head" x="1220" y="556"/><text class="a" x="1221" y="562.500">Services</text><rect x="1237" y="559" width="17" height="5" fill="#ddd"/><text class="a" x="1239" y="562.500">Schedule</text>
<rect x="1422" y="564" width="17" height="5" class="sv"/><text class="a w" x="1424" y="567.500">Add block</text><rect x="1441" y="564" width="27" height="5" class="sv"/><text class="a w" x="1442.500" y="567.500">To-Schedule Queue</text><circle cx="1468" cy="567" r=".8" fill="#4a9a4a"/>
<rect x="1216" y="573" width="4" height="5" class="in"/><rect x="1221" y="573" width="4" height="5" class="in"/><text class="a" x="1217" y="576.500">&lt;</text><text class="a" x="1222" y="576.500">&gt;</text><rect x="1228" y="573" width="10" height="5" class="q"/><text class="a" x="1229" y="576.500">Today</text>
<text x="1304" y="575.500" style="font-size:5.200px">Monday, June 12 2023</text><text class="a" style="fill:#d55" x="1361" y="575">01/30/30</text><rect x="1447" y="573" width="11" height="5" class="q"/><text class="a" x="1449" y="576.500">Week</text><rect x="1458" y="573" width="10" height="5" class="tb"/><text class="a" x="1460" y="576.500">Day</text>
<rect x="1214" y="580" width="254" height="148" class="q"/><rect x="1242" y="590" width="221" height="138" fill="url(#grid)"/><text class="a" x="1222" y="585">+ Add Visit</text><text class="a" x="1219" y="588.500">+ Add Care Staff</text>
<text class="a"><tspan x="1242" y="588">9</tspan><tspan x="1264.500" y="588">10</tspan><tspan x="1287" y="588">11</tspan><tspan x="1309" y="588">12</tspan><tspan x="1332.500" y="588">1</tspan><tspan x="1349.500" y="588">2</tspan><tspan x="1372" y="588">3</tspan><tspan x="1395" y="588">4</tspan><tspan x="1417.500" y="588">5</tspan><tspan x="1440" y="588">6</tspan><tspan x="1462" y="588">7</tspan></text>
<text class="b"><tspan x="1217" y="595.500">Unassigned</tspan><tspan x="1217" y="599">Position</tspan><tspan x="1218" y="603.500">Katie P</tspan><tspan x="1218" y="611.500">John D</tspan><tspan x="1218" y="620">Kylii B</tspan><tspan x="1218" y="628">Scott W</tspan><tspan x="1218" y="636">Tracy S</tspan><tspan x="1218" y="644.500">Mandie K</tspan><tspan x="1218" y="652.500">Peter L</tspan><tspan x="1218" y="661">Carol P</tspan><tspan x="1218" y="669">Josie P</tspan><tspan x="1218" y="677.500">Reggie B</tspan><tspan x="1218" y="685.500">MHC Float</tspan><tspan x="1218" y="694">Noah P</tspan><tspan x="1218" y="702">Steve L</tspan><tspan x="1218" y="710">Add'l Float</tspan></text>
<text class="a" style="font-weight:700;font-size:2px"><tspan x="1217" y="680.500">Location Sub</tspan><tspan x="1217" y="689.500">Fast Responders</tspan><tspan x="1217" y="706">Extra Sub</tspan></text>
<use href="#mini" x="1235" y="601.500"/><use href="#mini" x="1235" y="609.500"/><use href="#mini" x="1235" y="618"/><use href="#mini" x="1235" y="626"/><use href="#mini" x="1235" y="634"/><use href="#mini" x="1235" y="642.500"/><use href="#mini" x="1235" y="650.500"/><use href="#mini" x="1235" y="659"/><use href="#mini" x="1235" y="667"/><use href="#mini" x="1235" y="675.500"/><use href="#mini" x="1235" y="683.500"/><use href="#mini" x="1235" y="692"/><use href="#mini" x="1235" y="700"/><use href="#mini" x="1235" y="708"/>
<rect x="1288" y="591" width="45" height="7.400" class="rb"/><rect x="1350.300" y="591" width="45" height="3.200" class="rb"/><rect x="1373" y="595.300" width="45" height="3.200" class="rb"/>
<use href="#b44" x="1242.700" y="599"/><rect x="1242.700" y="599" width="44" height="3.300" fill="#9a9a9a"/><use href="#b44" x="1288" y="599"/><use href="#gd" x="1345" y="599"/><use href="#b44" x="1373" y="599"/><rect x="1418.700" y="599" width="44" height="7.400" class="gr"/>
<rect x="1242.700" y="607" width="62" height="8" class="lg"/><rect x="1305" y="607" width="157.700" height="8" class="sb"/>
<use href="#b44" x="1242.700" y="615.700"/><rect x="1288" y="615.700" width="44.300" height="7.400" class="mb"/><use href="#gd" x="1345" y="615.700"/><rect x="1373" y="615.700" width="44.300" height="7.400" class="nb"/><use href="#b44" x="1418.700" y="615.700"/>
<use href="#b44" x="1242.700" y="624"/><rect x="1288" y="624" width="22" height="7.400" class="gb"/><rect x="1311" y="624" width="61.500" height="7.400" class="f"/><use href="#tx" x="1311" y="624"/><rect x="1373" y="624" width="44.300" height="7.400" class="nb"/><use href="#b44" x="1418.700" y="624"/>
<rect x="1242.700" y="632" width="62.300" height="7.600" class="lg"/><rect x="1311" y="632" width="39" height="7.600" class="f"/><use href="#tx" x="1311" y="632"/><rect x="1350.300" y="632" width="45" height="7.600" class="yb"/><rect x="1395.700" y="632" width="67" height="7.600" class="sb"/>
<use href="#b44" x="1242.700" y="640"/><rect x="1242.700" y="640" width="39" height="2.800" fill="#9a9a9a"/><rect x="1288" y="640" width="44.300" height="7.400" class="nb"/><use href="#gd" x="1345" y="640"/><rect x="1373" y="640" width="67" height="7.400" class="gr"/>
<rect x="1265" y="648.300" width="45" height="7.400" class="f"/><use href="#tx" x="1265" y="648.300"/><use href="#tri" x="1303" y="652"/><use href="#gd" x="1345" y="648.300"/><use href="#b44" x="1373" y="648.300"/>
<use href="#b44" x="1242.700" y="656.700"/><use href="#b44" x="1288" y="656.700"/><use href="#gd" x="1345" y="656.700"/><use href="#b44" x="1368" y="656.700"/>
<rect x="1242.700" y="664.700" width="44" height="7.400" class="mb"/><use href="#tri" x="1281" y="668"/><use href="#b44" x="1288" y="664.700"/><use href="#gd" x="1345" y="664.700"/><use href="#b44" x="1368" y="664.700"/>
<use href="#b44" x="1242.700" y="673"/><use href="#b44" x="1288" y="673"/><use href="#gd" x="1345" y="673"/><use href="#b44" x="1368" y="673"/>
<path d="M1242 680.500H1463M1242 688.700H1463M1242 705.700H1463" class="ln"/>
<rect x="1242.700" y="681" width="124.300" height="7.400" class="lg"/><use href="#b44" x="1373" y="681"/><use href="#b44" x="1418.700" y="681"/>
<rect x="1311" y="689.700" width="21.300" height="7" class="gb"/><rect x="1373" y="689.700" width="44.300" height="7" class="tb"/><use href="#b44" x="1418.700" y="689.700"/>
<rect x="1344.300" y="697.500" width="118" height="7.800" class="sb"/><rect x="1242.700" y="706" width="90.300" height="7" class="lg"/><rect x="1345" y="706" width="16" height="7" class="gb"/></g>

<g id="mba5"><rect x="1189" y="770" width="288" height="187" class="f"/><use href="#sideicons" x="1189" y="770"/><use href="#head" x="1220" y="785"/><text class="a" x="1221" y="791.500">Services</text><rect x="1237" y="788" width="17" height="5" fill="#ddd"/><text class="a" x="1239" y="791.500">Schedule</text>
<rect x="1422" y="793" width="17" height="5" class="sv"/><text class="a w" x="1424" y="796.500">Add block</text><rect x="1442" y="793" width="26" height="5" class="sv"/><text class="a w" x="1443.500" y="796.500">To-Schedule Queue</text>
<rect x="1216" y="802" width="4" height="5" class="in"/><rect x="1221" y="802" width="4" height="5" class="in"/><text class="a" x="1217" y="805.500">&lt;</text><text class="a" x="1222" y="805.500">&gt;</text><rect x="1228" y="802" width="10" height="5" class="q"/><text class="a" x="1229" y="805.500">Today</text>
<text x="1319" y="805" style="font-size:5px">June 4-10, 2023</text><text class="a" style="fill:#d55" x="1361" y="805">01/30/2023</text><rect x="1447" y="802" width="11" height="5.500" class="tb"/><text class="a" x="1449" y="805.500">Week</text><rect x="1458" y="802" width="10" height="5.500" class="q"/><text class="a" x="1460" y="805.500">Day</text>
<rect x="1214" y="809" width="258" height="148" class="q"/><rect x="1242" y="825" width="227" height="132" fill="url(#grid)"/>
<text class="a" x="1222" y="814">+ Add Visit</text><text class="a" x="1219" y="818">+ Add Care Staff</text>
<text class="b m" style="font-size:3.200px"><tspan x="1258" y="820.500">Monday</tspan><tspan x="1296" y="820.500">Tuesday</tspan><tspan x="1333" y="820.500">Wednesday</tspan><tspan x="1371" y="820.500">Thursday</tspan><tspan x="1408" y="820.500">Friday</tspan><tspan x="1446" y="820.500">Saturday</tspan></text>
<use href="#day" x="1242"/><use href="#day" x="1279.500"/><use href="#day" x="1317"/><use href="#day" x="1354.500"/><use href="#day" x="1392"/><use href="#day" x="1429.500"/>
<rect x="1242" y="843.500" width="11" height="7.500" class="lg"/><rect x="1252" y="843.500" width="23" height="7.500" class="sb"/><rect x="1429.500" y="843.500" width="9" height="7.500" class="lg"/><rect x="1439" y="843.500" width="24" height="7.500" class="sb"/>
<rect x="1264" y="867.700" width="11" height="7" class="sb"/>
<rect x="1279.500" y="843.500" width="13" height="7.500" class="f"/><rect x="1294" y="843.500" width="4" height="7.500" fill="#ddd"/><rect x="1299" y="843.500" width="12" height="7.500" class="f"/><rect x="1317" y="843.500" width="6" height="7.500" class="f"/><rect x="1324" y="843.500" width="3" height="7.500" fill="#ddd"/><rect x="1329" y="843.500" width="17" height="7.500" class="f"/><rect x="1354.500" y="843.500" width="6" height="7.500" class="f"/><rect x="1362" y="843.500" width="3" height="7.500" fill="#ddd"/><rect x="1367" y="843.500" width="17" height="7.500" class="f"/><rect x="1392" y="843.500" width="13" height="7.500" class="f"/><rect x="1406" y="843.500" width="3" height="7.500" fill="#ddd"/><rect x="1410" y="843.500" width="13" height="7.500" class="f"/>
<path d="M1242 924H1477M1242 932H1477M1242 940H1477" class="ln" style="stroke:#8f8f8f"/>
<text class="b"><tspan x="1218" y="840">Katie P</tspan><tspan x="1218" y="848">John D</tspan><tspan x="1218" y="856.500">Kylii B</tspan><tspan x="1218" y="864.500">Scott W</tspan><tspan x="1218" y="872">Tracy S</tspan><tspan x="1218" y="880.500">Mandie K</tspan><tspan x="1218" y="889">Peter L</tspan><tspan x="1218" y="897">Carol P</tspan><tspan x="1218" y="905">Josie P</tspan><tspan x="1218" y="913.500">Reggie B</tspan><tspan x="1218" y="930">Louis P</tspan><tspan x="1218" y="938">Steve L</tspan><tspan x="1218" y="946">Noah P</tspan><tspan x="1218" y="954">Tracy S</tspan><tspan x="1217" y="831">Unassigned</tspan><tspan x="1217" y="834.500">Position</tspan></text>
<use href="#mini" x="1235" y="838"/><use href="#mini" x="1235" y="846"/><use href="#mini" x="1235" y="854.500"/><use href="#mini" x="1235" y="862.500"/><use href="#mini" x="1235" y="870"/><use href="#mini" x="1235" y="878.500"/><use href="#mini" x="1235" y="887"/><use href="#mini" x="1235" y="895"/><use href="#mini" x="1235" y="903"/><use href="#mini" x="1235" y="911.500"/><use href="#mini" x="1235" y="928"/><use href="#mini" x="1235" y="936"/><use href="#mini" x="1235" y="944"/><use href="#mini" x="1235" y="952"/></g>

<g id="queue"><rect x="1189" y="331" width="72" height="187" class="f"/><path d="M1195 337.500 1198 340.500M1198 337.500 1195 340.500" class="ic"/><text class="e" x="1194" y="350" style="font-weight:400">To-Schedule Queue</text>
<rect x="1194" y="358" width="62" height="56" class="q"/><text class="d" x="1197" y="364.500">Family Name:</text><text class="a" x="1236" y="364.500">01/01/2023</text><text class="d" x="1197" y="371" style="font-size:2.600px">Preferred Availability</text><text class="a" x="1197" y="375.500">Mon:  3-7</text><text class="a" x="1197" y="379.500">Tues:  9-12</text><text class="d" x="1197" y="385" style="font-size:2.600px">Authorized Hours:</text><text class="a" x="1222" y="385">X / week</text><text class="d" x="1197" y="390" style="font-size:2.600px">Needed Hours:</text><text class="a" x="1222" y="390">X / week</text><text class="d" x="1197" y="394.500" style="font-size:2.600px">Notes</text><text class="a" x="1247" y="394.500">Edit</text><rect x="1197" y="396" width="56" height="3" class="g"/><rect x="1197" y="400" width="46" height="3" class="g"/><text class="a u" x="1197" y="409.500">View Service Details</text><text class="a u" x="1233" y="409.500">Add to Schedule</text>
<rect x="1194.500" y="419.500" width="61" height="55" class="q" stroke="#a9d4a3" stroke-width="1"/><text class="d" x="1197" y="426">Family Name:</text><text class="a" x="1236" y="426">01/01/2023</text><text class="d" x="1197" y="432.500" style="font-size:2.600px">Preferred Availability</text><text class="a" x="1197" y="437">Mon:  3-7</text><text class="a" x="1197" y="441">Tues:  9-12</text><text class="d" x="1197" y="446" style="font-size:2.600px">Authorized Hours:</text><text class="a" x="1222" y="446">X / week</text><text class="d" x="1197" y="451" style="font-size:2.600px">Needed Hours:</text><text class="a" x="1222" y="451">X / week</text><text class="d" x="1197" y="455.500" style="font-size:2.600px">Notes</text><text class="a" x="1247" y="455.500">Edit</text><rect x="1197" y="457" width="56" height="3" class="g"/><rect x="1197" y="461" width="46" height="3" class="g"/><text class="a u" x="1197" y="470.500">View Service Details</text><text class="a u" x="1233" y="470.500">Add to Schedule</text></g>
<g id="menu"><rect x="1277" y="445" width="32" height="35" class="f" stroke="#c8c8c8" stroke-width=".5"/><text class="a" style="fill:#333"><tspan x="1279" y="453">Service Appointment</tspan><tspan x="1279" y="459.500">Ancillary Event</tspan><tspan x="1279" y="466">Time Off</tspan><tspan x="1279" y="472.500">Floater Block</tspan></text></g>
<g id="toggle"><rect x="1269" y="495" width="7.500" height="6.500" class="gr"/><rect x="1278" y="495" width="7" height="6.500" class="f"/><rect x="1269" y="502.500" width="7.500" height="6.500" class="mb"/><rect x="1278" y="502.500" width="7" height="6.500" class="f"/></g>

<g id="edit-confirm"><rect x="766" y="297" width="76" height="38" class="f"/><path d="M769.500 300.500 772 303M772 300.500 769.500 303" class="ic"/><text class="a m" style="fill:#333;font-size:2.900px"><tspan x="804" y="309.500">Are these edits just for this</tspan><tspan x="804" y="313.500">appointment for for all future</tspan><tspan x="804" y="317.500">appointments?</tspan></text><rect x="773" y="321" width="62" height="4.500" class="sv"/></g>
<g id="new-appt"><rect x="766" y="347" width="105" height="171" class="f"/><path d="M771 352 774 355M774 352 771 355" class="ic"/><text x="770" y="363" style="font-size:5px;fill:#555">New Appointment</text>
<text class="a"><tspan x="770" y="370.500">Service</tspan><tspan x="825" y="370.500">Preferred Availability</tspan><tspan x="770" y="385">Date</tspan><tspan x="770" y="399.500">Start Time</tspan><tspan x="796" y="399.500">End Time</tspan><tspan x="770" y="413.500">Location</tspan><tspan x="813" y="413.500">Room</tspan></text>
<rect x="770" y="372" width="51" height="5.500" class="in"/><rect x="825" y="372" width="41" height="19" fill="#f2f2f2"/><rect x="770" y="386" width="51" height="5.500" class="in"/><rect x="770" y="400.500" width="23.500" height="6.500" class="in"/><rect x="796.500" y="400.500" width="24" height="6.500" class="in"/><rect x="825" y="396.500" width="41.500" height="10" rx="1" class="in"/><text class="a"><tspan x="827" y="400.500">Authorized Hrs</tspan><tspan x="856" y="400.500">X / wk</tspan><tspan x="827" y="404">Needed Hrs</tspan><tspan x="856" y="404">X / wk</tspan></text>
<rect x="770" y="414" width="38" height="6" class="in"/><rect x="813" y="414" width="39" height="6" class="in"/>
<text class="a"><tspan x="770" y="427">Participants</tspan><tspan x="770" y="432.500">Authorized Visitors</tspan><tspan x="796" y="432.500">Transportation</tspan><tspan x="821" y="432.500">Children</tspan><tspan x="845" y="432.500">Transportation</tspan><tspan x="775" y="437.500">Primrose Smith</tspan><tspan x="796" y="437.500">Ride Right</tspan><tspan x="825" y="437.500">Sam Smith</tspan><tspan x="846" y="437.500">Ride Right</tspan><tspan x="775" y="443">Rose Smith</tspan><tspan x="796" y="443">Ride Right</tspan><tspan x="825" y="443">Chrissy Smith</tspan><tspan x="846" y="443">Mighty Smith</tspan><tspan x="775" y="448">Robert Simpson</tspan><tspan x="825" y="448">Skyler Smith</tspan><tspan x="770" y="457">Caseworkers</tspan><tspan x="790" y="457">0 of 10</tspan><tspan x="770" y="462">Jake Doyle X</tspan><tspan x="770" y="475">Repeat</tspan><tspan x="770" y="487">Finance</tspan><tspan x="775" y="492.500">Prior appointment</tspan><tspan x="820" y="492.500">Final Visit</tspan><tspan x="770" y="498">Make-up Date</tspan></text>
<circle cx="772" cy="436.500" r="1.500" class="in"/><circle cx="772" cy="442" r="1.500" class="in"/><circle cx="772" cy="447.500" r="1.500" class="in"/><circle cx="822" cy="436.500" r="1.500" class="in"/><circle cx="822" cy="442" r="1.500" class="in"/><circle cx="822" cy="447.500" r="1.500" class="in"/><rect x="797" y="445" width="18" height="5" class="in"/><rect x="846" y="445" width="18" height="5" class="in"/><circle cx="772" cy="491.500" r="1.500" class="in"/><circle cx="815" cy="491.500" r="1.500" class="in"/>
<rect x="770" y="464.500" width="51" height="5.500" class="in"/><rect x="770" y="477.500" width="19" height="5" class="in"/><rect x="789" y="477.500" width="19" height="5" class="in"/><rect x="808" y="477.500" width="19" height="5" class="in"/><rect x="827" y="477.500" width="19" height="5" class="in"/><rect x="770" y="499" width="51" height="5" class="in"/><rect x="771" y="508" width="9" height="5" class="sv"/></g>
<g id="lunch"><rect x="915" y="363" width="62" height="47" class="f"/><path d="M919 368 922 371M922 368 919 371" class="ic"/><text class="d" x="920" y="378">Edit Lunch Time</text><text class="a"><tspan x="920" y="386">Start Time</tspan><tspan x="945" y="386">End Time</tspan></text><rect x="920" y="387.500" width="20" height="5" class="in"/><rect x="944" y="387.500" width="20" height="5" class="in"/><rect x="920" y="398" width="9" height="5" class="sv"/></g>
<g id="off"><rect x="915" y="425" width="62" height="99" class="f"/><path d="M918.500 429 921.500 432M921.500 429 918.500 432" class="ic"/><text x="917" y="440" style="font-size:4.600px">Add OFF time</text><text class="a"><tspan x="917" y="448">Name</tspan><tspan x="917" y="460">Date</tspan><tspan x="938" y="476.500">to</tspan><tspan x="922" y="485">Sending</tspan><tspan x="917" y="492.500">Notes</tspan></text><path d="M917 454H957V450M917 466H957V462M917 477H933V472M941 477H957V472" class="ln" style="stroke:#ddd"/><rect x="917.500" y="482" width="4" height="3" class="in"/><rect x="917.500" y="493.500" width="41" height="17" class="in"/><rect x="917" y="515" width="9" height="5" class="sv"/></g>
<g id="floater"><rect x="985" y="349" width="80" height="69" class="f"/><path d="M988.500 353 991.500 356M991.500 353 988.500 356" class="ic"/><text class="d" x="989" y="364">New Floater Block</text><text class="a"><tspan x="989" y="371">Name</tspan><tspan x="989" y="384">Date</tspan><tspan x="989" y="397">Start Time</tspan><tspan x="1014" y="397">End Time</tspan></text><rect x="989" y="372" width="40" height="5" class="in"/><rect x="989" y="385.500" width="40" height="5" class="in"/><rect x="989" y="398" width="19" height="6" class="in"/><rect x="1014" y="398" width="19" height="6" class="in"/><text class="a" x="1033" y="412" style="fill:#e88">Delete Floater Block</text></g>
<g id="ancillary"><rect x="985" y="433" width="69" height="88" class="f"/><path d="M988.500 438 991.500 441M991.500 438 988.500 441" class="ic"/><text class="d" x="988" y="449" style="font-size:3.600px">Add Ancillary Event</text><text class="a"><tspan x="988" y="456">Event Name</tspan><tspan x="988" y="469">Assigned to</tspan><tspan x="988" y="482">Date</tspan><tspan x="988" y="496">Start Time</tspan><tspan x="1025" y="496">End Time</tspan><tspan x="1017" y="501">to</tspan></text><rect x="988" y="457" width="60" height="5" class="in"/><rect x="988" y="470" width="60" height="5" class="in"/><rect x="988" y="483.500" width="60" height="5" class="in"/><rect x="988" y="497.500" width="23" height="5.500" class="in"/><rect x="1025" y="497.500" width="23" height="5.500" class="in"/><rect x="988" y="510" width="9" height="5" class="sv"/><text class="a" x="1032" y="514" style="fill:#e88">Delete Event</text></g>

<g id="appt-details-1"><rect x="766" y="541" width="138" height="272" class="f"/><rect x="766" y="674" width="138" height="139" class="p"/><path d="M770.500 545.500 773.500 548.500M773.500 545.500 770.500 548.500" class="ic"/><text class="h" x="770" y="558">Appointment Details</text><rect x="871" y="556.500" width="26" height="4" class="sv"/><text class="a w" x="873" y="559.500">Appointment Details</text><text class="a" x="875" y="564">Checked in 00/00 5:15</text>
<rect x="770" y="562" width="18" height="3" fill="#6fb96b"/><rect x="790" y="562" width="22" height="3" fill="#f0ad4e"/><rect x="814" y="562" width="17.500" height="3" fill="#aaa"/><rect x="833" y="562" width="18" height="3" fill="#ee7f7b"/>
<rect x="769" y="567" width="126" height="5" fill="#fdf5d8"/><text class="a" x="771" y="570.500">Alert: this appointment has been changed and requires re-confirmation from all participants</text>
<text class="c"><tspan x="770" y="578">Friday, June 8  |  2:35pm - 5:15pm</tspan><tspan x="770" y="582.500">Repeats: Weekly</tspan></text>
<text class="b"><tspan x="770" y="591.500">Participants</tspan><tspan x="793" y="591.500">John Doyle</tspan><tspan x="793" y="597">Checked In:</tspan><tspan x="818" y="597">Times:</tspan><tspan x="793" y="607">Linked Licenses</tspan><tspan x="804" y="614.500">Cancel</tspan><tspan x="770" y="627.500">Address</tspan><tspan x="793" y="627.500">7532 Reading Rd</tspan><tspan x="793" y="631">Cincinnati, OH 45237</tspan><tspan x="793" y="635">Room 3</tspan><tspan x="770" y="641">Family Name</tspan><tspan x="793" y="641">Abi Luther (A33H7A8252)</tspan><tspan x="770" y="647.500">Visit Owner</tspan><tspan x="793" y="647.500">Abi Luther</tspan><tspan x="793" y="651">(513)555-1986</tspan><tspan x="770" y="655.500">Visit ID</tspan><tspan x="793" y="655.500">214</tspan><tspan x="770" y="661.500">Level of Care</tspan><tspan x="793" y="661.500">Facilitated</tspan></text>
<text class="a" x="840" y="591.500">00/00 00:00</text><rect x="793" y="598" width="22" height="4.500" class="in"/><rect x="818" y="598" width="14" height="4.500" class="in"/><rect x="835" y="598" width="14" height="4.500" class="in"/><rect x="793" y="611" width="8" height="4" class="sv"/>
<rect x="862" y="589" width="33" height="36" fill="#d5d5d5"/><text class="a" style="fill:#333"><tspan x="864" y="593.500" style="font-weight:700">Who's attending:</tspan><tspan x="864" y="598">Abi Luther</tspan><tspan x="864" y="601.500">Checked out 5/6/23</tspan><tspan x="864" y="611.500">Kendall Perkins</tspan><tspan x="864" y="615">Child</tspan><tspan x="864" y="618.500">Checked In: 7</tspan><tspan x="864" y="622">Check In</tspan></text><rect x="865" y="604" width="13" height="3" class="sv"/>
<path d="M766 674H767V667H797V674H904" class="ln"/><text class="c"><tspan x="769" y="672.500">Service Details</tspan><tspan x="803" y="672.500">Scheduling</tspan></text>
<text class="a" x="873" y="681.500">View Service Details</text>
<text class="a"><tspan x="770" y="690">Caseworker</tspan><tspan x="770" y="699.500">Caseworker Supervisor</tspan><tspan x="770" y="709.500">Visit Owner (Neocore ID)</tspan><tspan x="803" y="709.500">YG8289AP5</tspan><tspan x="770" y="722">Location</tspan><tspan x="803" y="722">In-person</tspan><tspan x="770" y="729">Approved Address</tspan><tspan x="803" y="729">7582 Reading Rd</tspan><tspan x="803" y="732">Cincinnati OH 45237</tspan></text>
<text class="a bl"><tspan x="803" y="690">Madison Huffman</tspan><tspan x="803" y="699.500">Grace Mares</tspan></text><text class="a" style="fill:#999"><tspan x="803" y="693.500">513-994-1202 | 513-439-4543</tspan><tspan x="803" y="703">513-994-1010</tspan></text>
<rect x="844" y="688" width="55" height="21" class="f"/><rect x="844" y="711" width="55" height="21" fill="#d5d5d5"/><text class="a m" style="fill:#333"><tspan x="871.500" y="719">Visitor Scheduling and Schedule Communication</tspan><tspan x="871.500" y="722.500">details are missing</tspan><tspan x="871.500" y="726">Family's preferred Appointment</tspan><tspan x="871.500" y="729">needed</tspan></text>
<text class="b bl" style="font-weight:700"><tspan x="770" y="740.500">Authorized Visitors</tspan><tspan x="770" y="767">Prohibited Visitors</tspan><tspan x="770" y="787.500">Children</tspan></text><text class="a bl"><tspan x="774" y="748">Abi Luther</tspan><tspan x="774" y="774">Jordan Perkins</tspan><tspan x="774" y="798.500">Keylani Perkins</tspan><tspan x="791" y="798.500">Ride Right</tspan><tspan x="809" y="797.500">Ride Right</tspan></text><text class="a"><tspan x="774" y="751.500">513-255-0492</tspan><tspan x="774" y="777.500">Ex wife, 1980</tspan><tspan x="773" y="793.500">Name</tspan><tspan x="791" y="793.500">Gender</tspan><tspan x="809" y="793">Transporter</tspan></text></g>

<g id="appt-details-2"><rect x="916" y="538" width="138" height="257" class="f"/><rect x="916" y="656" width="138" height="139" class="p"/><path d="M920.500 543 923.500 546M923.500 543 920.500 546" class="ic"/><text class="h" x="921" y="556">Appointment Details</text><rect x="1021" y="554.500" width="26" height="4" class="sv"/><text class="a w" x="1023" y="557.500">Appointment Details</text><text class="a" x="1026" y="561.500">Checked in 00/00</text>
<rect x="921" y="559" width="17.500" height="3" fill="#6fb96b"/><rect x="940" y="559" width="22" height="3" fill="#f0ad4e"/><rect x="964" y="559" width="18" height="3" fill="#aaa"/><rect x="984" y="559" width="17.500" height="3" fill="#ee7f7b"/>
<rect x="920" y="564" width="125" height="5" fill="#fdf5d8"/><text class="a" x="922" y="567.500">Alert: this appointment has been changed and requires re-confirmation from all participants</text>
<text class="c"><tspan x="921" y="575">Friday, June 8  |  9:45pm - 5:15pm</tspan><tspan x="921" y="579.500">Repeats: Weekly</tspan></text>
<text class="b"><tspan x="921" y="589">Participants</tspan><tspan x="943" y="589">John Doyle</tspan><tspan x="921" y="601.500">Address</tspan><tspan x="943" y="601.500">7532 Reading Rd</tspan><tspan x="943" y="605">Cincinnati, OH 45237</tspan><tspan x="943" y="608.500">Room 3</tspan><tspan x="921" y="621">Family Name</tspan><tspan x="943" y="621">Abi Luther (A33H7A8252)</tspan><tspan x="921" y="627.500">Visit Owner</tspan><tspan x="943" y="627.500">Abi Luther</tspan><tspan x="943" y="631">(513)555-1986</tspan><tspan x="921" y="635">Visit ID</tspan><tspan x="943" y="635">214</tspan><tspan x="921" y="641">Level of Care</tspan><tspan x="943" y="641">Facilitated</tspan></text><text class="a" style="fill:#e77"><tspan x="943" y="592.500">Kendall Brangan</tspan><tspan x="967" y="592.500">Do Do 01</tspan></text><text class="a" x="943" y="596">For missing: Due 5 Day</text><text class="a" x="967" y="596">INT 1-2 DF</text>
<rect x="1012" y="586" width="33" height="36" fill="#d5d5d5"/><text class="a" style="fill:#333"><tspan x="1014" y="590.500" style="font-weight:700">Who's attending:</tspan><tspan x="1014" y="595">Abi Luther</tspan><tspan x="1014" y="598.500">Checked out 5/6/23</tspan><tspan x="1014" y="608.500">Kendall Perkins</tspan><tspan x="1014" y="612">Child</tspan><tspan x="1014" y="615.500">Checked In: 7</tspan></text><rect x="1014" y="601" width="13" height="3" class="sv"/>
<path d="M916 656.500H947V649H977V656.500H1054" class="ln"/><text class="c"><tspan x="920" y="654.500">Service Details</tspan><tspan x="949" y="654.500">Scheduling</tspan></text>
<text class="a" x="1024" y="664.500">+ Availability Details</text><text class="a" style="font-weight:700;fill:#444"><tspan x="921" y="664.500">Authorized Hours</tspan><tspan x="921" y="669.500">Needed Hours</tspan><tspan x="921" y="676">Preferred Availability</tspan></text><text class="a"><tspan x="959" y="664.500">X / week</tspan><tspan x="959" y="669.500">X / week</tspan><tspan x="921" y="682.500">Monday</tspan><tspan x="957" y="682.500">9am-2pm</tspan><tspan x="921" y="685.500">Tuesday</tspan><tspan x="957" y="685.500">11am-3pm</tspan><tspan x="921" y="688.500">Wednesday</tspan><tspan x="957" y="688.500">2pm-5pm</tspan><tspan x="921" y="691.500">Friday</tspan><tspan x="957" y="691.500">6pm-9pm</tspan></text>
<text class="d" x="921" y="706.500">Contact Attempts</text><use href="#contact" x="921" y="714.500"/></g>

<g id="co-menu"><rect x="1059" y="538" width="27" height="35" class="f"/><text class="a" style="fill:#333"><tspan x="1062" y="546">Edit</tspan><tspan x="1062" y="551" style="font-weight:700">Mark as Attended</tspan><tspan x="1062" y="556">Mark as No Show</tspan></text></g>
<g id="add-confirm"><rect x="1059" y="582" width="89" height="45" class="f"/><path d="M1063.500 586 1066 588.500M1066 586 1063.500 588.500" class="ic"/><text class="a m" style="fill:#333;font-size:2.900px"><tspan x="1103.500" y="596">Are you sure you want to</tspan><tspan x="1103.500" y="600">remove ___ from the schedule?</tspan></text><text class="a" x="1082" y="607">Effective Date</text><rect x="1103" y="604" width="20" height="5" class="in"/><rect x="1083" y="614" width="20" height="5" class="sv"/><rect x="1106" y="614" width="17" height="5" class="sv"/></g>
<g id="add-care"><rect x="1061" y="636" width="106" height="112" class="f"/><path d="M1065.500 640.500 1068.500 643.500M1068.500 640.500 1065.500 643.500" class="ic"/><text class="d" x="1065" y="651">Add Care Staff to Recurring Schedule</text><text class="a"><tspan x="1065" y="659">Name</tspan><tspan x="1065" y="672">Modifier</tspan><tspan x="1065" y="685">Schedule</tspan><tspan x="1065" y="693">Monday</tspan><tspan x="1065" y="700">Tuesday</tspan><tspan x="1065" y="708">Wednesday</tspan><tspan x="1065" y="716">Thursday</tspan><tspan x="1065" y="723">Friday</tspan><tspan x="1065" y="731">Saturday</tspan></text><rect x="1065" y="660" width="42" height="5.500" class="in"/><rect x="1065" y="673" width="42" height="5" class="in"/>
<use href="#avrow" x="1089" y="691"/><use href="#avrow" x="1089" y="698.500"/><use href="#avrow" x="1089" y="706"/><use href="#avrow" x="1089" y="713.500"/><use href="#avrow" x="1089" y="721"/><use href="#avrow" x="1089" y="729"/><rect x="1065" y="737" width="10" height="5" class="sv"/><text class="a w" x="1067" y="740.300">Save</text></g>
<g id="add-sub"><rect x="1061" y="759" width="106" height="112" class="f"/><path d="M1065.500 763.500 1068.500 766.500M1068.500 763.500 1065.500 766.500" class="ic"/><text class="d" x="1065" y="774">Add Sub to this Week's Schedule</text><text class="a"><tspan x="1065" y="782">Name</tspan><tspan x="1065" y="795">Modifier</tspan><tspan x="1065" y="808">Days</tspan><tspan x="1065" y="816">Mon. 6/12</tspan><tspan x="1065" y="824">Tues. 6/13</tspan><tspan x="1065" y="831">Wed. 6/14</tspan><tspan x="1065" y="838">Thu. 6/15</tspan><tspan x="1065" y="846">Fri. 6/16</tspan><tspan x="1065" y="854">Sat. 6/17</tspan></text><rect x="1065" y="783" width="42" height="5.500" class="in"/><rect x="1065" y="796" width="42" height="5" class="in"/>
<use href="#avrow" x="1089" y="814"/><use href="#avrow" x="1089" y="822"/><use href="#avrow" x="1089" y="829"/><use href="#avrow" x="1089" y="836.500"/><use href="#avrow" x="1089" y="844"/><use href="#avrow" x="1089" y="852"/><rect x="1065" y="860" width="10" height="5" class="sv"/></g>
<g id="add-user"><rect x="1061" y="889" width="70" height="127" class="f"/><path d="M1065.500 893.500 1068.500 896.500M1068.500 893.500 1065.500 896.500" class="ic"/><text x="1066" y="905" style="font-size:5.500px">Add User</text><text class="a"><tspan x="1066" y="914.500">First Name</tspan><tspan x="1097" y="914.500">Last Name</tspan><tspan x="1066" y="927">PHC Email</tspan><tspan x="1066" y="939.500">Phone Number</tspan><tspan x="1066" y="954">Personal Email</tspan><tspan x="1066" y="968.500">Status</tspan><tspan x="1066" y="982">Notes on Availability</tspan></text>
<path d="M1066 921H1093.500V916M1097 921H1125V916M1066 933.500H1125V928.500M1066 945.500H1125V940.500M1066 960H1125V955M1066 974H1125V969" class="ln" style="stroke:#ddd"/><rect x="1066" y="984" width="59" height="19" class="in"/><rect x="1066" y="1007" width="21" height="5" class="sv"/><text class="a w" x="1067.500" y="1010.500">Send Invitation</text><text class="a" x="1091" y="1010.500">Cancel</text></g>
<g id="pref"><rect x="762" y="1034" width="106" height="103" class="f"/><path d="M767 1039 770 1042M770 1039 767 1042" class="ic"/><text class="d" x="767" y="1049">Preferred Availability</text><text class="a"><tspan x="767" y="1057.500">Monday</tspan><tspan x="767" y="1065">Tuesday</tspan><tspan x="767" y="1073">Wednesday</tspan><tspan x="767" y="1080.500">Thursday</tspan><tspan x="767" y="1088">Friday</tspan><tspan x="767" y="1096">Saturday</tspan><tspan x="767" y="1105">Notes</tspan></text>
<use href="#avrow" x="790" y="1055.500"/><use href="#avrow" x="790" y="1063"/><use href="#avrow" x="790" y="1071"/><use href="#avrow" x="790" y="1078.500"/><use href="#avrow" x="790" y="1086"/><use href="#avrow" x="790" y="1094"/><rect x="766.500" y="1107" width="96.500" height="15" class="in"/><rect x="767" y="1127" width="9" height="5" class="sv"/><text class="a w" x="769" y="1130.500">Save</text></g>

<g id="frame-labels">
<text class="lb" x="148" y="92">MacBook Air - 7</text><text class="lb" x="148" y="529">MacBook Air - 1</text><text class="lb" x="455" y="529">MacBook Air - 10</text><text class="lb" x="148" y="828">MacBook Air - 3</text><text class="lb" x="455" y="828">MacBook Air - 4</text><text class="lb" x="1189" y="80">MacBook Air - 9</text><text class="lb" x="1189" y="529">MacBook Air - 2</text><text class="lb" x="1189" y="758">MacBook Air - 5</text><text class="lb" x="767" y="817">MacBook Air - 8</text><text class="lb" x="916" y="351">Lunc…</text>
</g>
<g id="back-tooltip"><path d="M543.500 522H548M543.500 522 545.500 520.300M543.500 522 545.500 523.700" stroke="#333" stroke-width=".8" fill="none"/><rect x="546" y="520" width="16" height="4" rx="1" fill="#333"/><text class="a w" x="548" y="523">Back to Top</text></g>
<g id="component-labels">
<use href="#cmp" x="777" y="277"/><text class="cp" x="795" y="285">E…</text>
<use href="#cmp" x="777" y="327"/><text class="cp" x="795" y="335">App…</text>
<use href="#cmp" x="777" y="521"/><text class="cp" x="794" y="529">Appt D…</text>
<use href="#cmp" x="997" y="328"/><text class="cp" x="1014" y="336">Fl…</text>
<use href="#cmp" x="926" y="405"/><use href="#dots" x="947" y="412"/>
<use href="#cmp" x="997" y="413"/><use href="#dots" x="1017" y="419"/>
<use href="#cmp" x="928" y="518"/><text class="cp" x="945" y="526">Appt D…</text><use href="#dots" x="1062" y="524"/>
<use href="#cmp" x="1071" y="561"/><text class="cp" x="1088" y="569">Co…</text>
<use href="#cmp" x="1073" y="616"/><text class="cp" x="1091" y="624">Add…</text>
<use href="#cmp" x="1073" y="868"/><use href="#dots" x="1093" y="874"/>
<use href="#cmp" x="1201" y="311"/><text class="cp" x="1218" y="319">T…</text><use href="#dots" x="1280" y="431"/>
<use href="#cmp" x="773" y="1014"/><text class="cp" x="791" y="1021">Pref…</text>
<use href="#dots" x="58" y="527"/><use href="#dots" x="110" y="527"/><use href="#dots" x="548" y="505"/><use href="#dots" x="1220" y="732"/>
</g>
</svg>
